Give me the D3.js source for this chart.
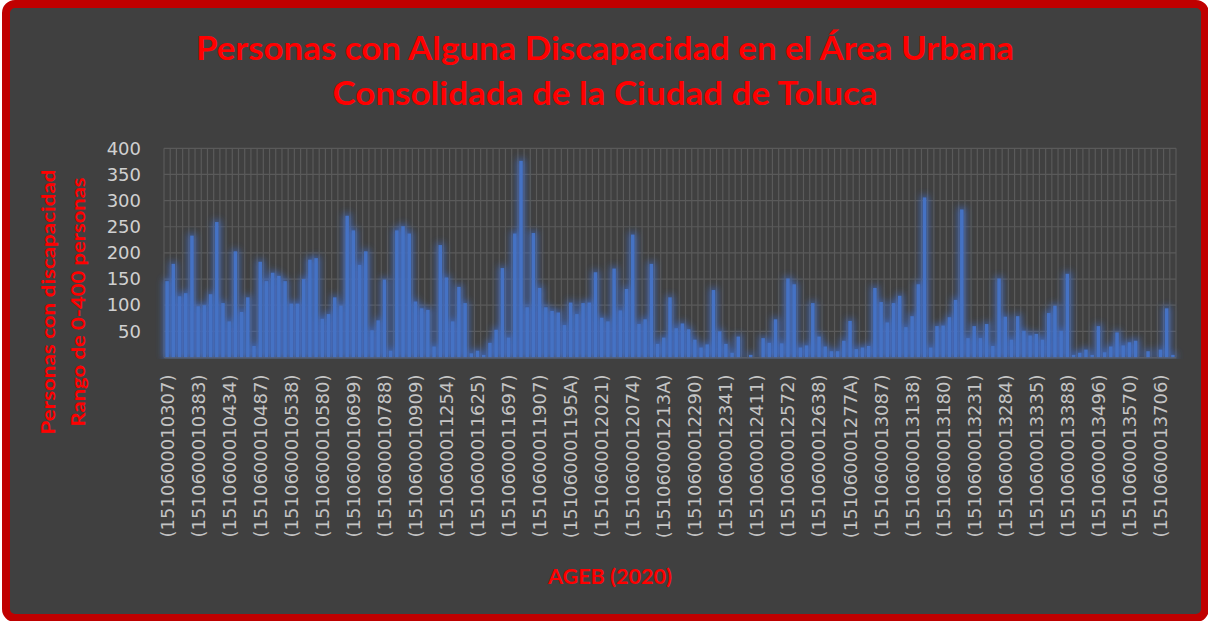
<!DOCTYPE html>
<html>
<head>
<meta charset="utf-8">
<script src="https://cdn.jsdelivr.net/npm/d3@7"></script>
<style>
  html, body { margin: 0; padding: 0; background: #ffffff; }
  svg { display: block; }
</style>
</head>
<body>
<svg id="chart" width="1208" height="621"></svg>
<script>
// Personas con alguna discapacidad por AGEB (2020), en orden de clave
const values = [
  146, 179, 117, 123, 233, 98, 100, 121, 259, 104,
  69, 203, 87, 115, 22, 183, 146, 162, 156, 146,
  103, 103, 150, 187, 190, 74, 83, 115, 99, 271,
  243, 177, 203, 52, 71, 149, 13, 243, 251, 237,
  107, 94, 91, 21, 215, 153, 69, 135, 104, 8,
  13, 5, 28, 53, 171, 38, 237, 376, 96, 238,
  133, 96, 89, 86, 62, 105, 83, 104, 105, 163,
  76, 69, 170, 90, 131, 235, 64, 73, 179, 26,
  38, 115, 56, 65, 54, 34, 19, 25, 129, 50,
  26, 9, 40, 0, 5, 0, 37, 28, 73, 27,
  151, 140, 19, 23, 104, 40, 21, 12, 12, 32,
  70, 16, 19, 22, 133, 106, 67, 104, 118, 58,
  79, 140, 306, 19, 60, 61, 77, 110, 283, 37,
  60, 37, 64, 22, 151, 78, 34, 79, 51, 42,
  45, 34, 85, 99, 51, 160, 5, 9, 15, 5,
  60, 10, 21, 48, 23, 29, 32, 0, 12, 0,
  15, 94, 5
];

// Claves AGEB rotuladas (una de cada cinco categorías)
const tickLabels = [
  "(1510600010307)", "(1510600010383)", "(1510600010434)", "(1510600010487)",
  "(1510600010538)", "(1510600010580)", "(1510600010699)", "(1510600010788)",
  "(1510600010909)", "(1510600011254)", "(1510600011625)", "(1510600011697)",
  "(1510600011907)", "(151060001195A)", "(1510600012021)", "(1510600012074)",
  "(151060001213A)", "(1510600012290)", "(1510600012341)", "(1510600012411)",
  "(1510600012572)", "(1510600012638)", "(151060001277A)", "(1510600013087)",
  "(1510600013138)", "(1510600013180)", "(1510600013231)", "(1510600013284)",
  "(1510600013335)", "(1510600013388)", "(1510600013496)", "(1510600013570)",
  "(1510600013706)"
];
const labelEvery = 5;

const yTicks = [50, 100, 150, 200, 250, 300, 350, 400];

const titleLines = [
  "Personas con Alguna Discapacidad en el Área Urbana",
  "Consolidada de la Ciudad de Toluca"
];
const yTitleLines = ["Personas con discapacidad", "Rango de 0-400 personas"];
const xTitle = "AGEB (2020)";

// ---------------------------------------------------------------
const svg = d3.select("#chart");
const plot = { left: 164, right: 1176, top: 148.3, bottom: 357.5 };
const gridColor = "#5a5a5a";
const barColor = "#4472c4";
const red = "#ff0000";
const boldFont = "Lato, 'Open Sans', sans-serif";

// Fit a text element to a given width while keeping its font size
function fitWidth(sel, target) {
  const len = sel.node().getComputedTextLength();
  if (Math.abs(len - target) / target > 0.02) {
    sel.attr("textLength", target).attr("lengthAdjust", "spacingAndGlyphs");
  }
}

// Glow around the bars
const defs = svg.append("defs");
const glow = defs.append("filter").attr("id", "glow")
  .attr("filterUnits", "userSpaceOnUse")
  .attr("x", 140).attr("y", 120).attr("width", 1060).attr("height", plot.bottom - 120 + 1);
glow.append("feMorphology").attr("in", "SourceAlpha").attr("operator", "dilate")
  .attr("radius", 2).attr("result", "thick");
glow.append("feGaussianBlur").attr("in", "thick").attr("stdDeviation", 3.5).attr("result", "blur");
glow.append("feFlood").attr("flood-color", "#3f6fd0").attr("flood-opacity", 0.75).attr("result", "col");
glow.append("feComposite").attr("in", "col").attr("in2", "blur").attr("operator", "in").attr("result", "halo");
const merge = glow.append("feMerge");
merge.append("feMergeNode").attr("in", "halo");
merge.append("feMergeNode").attr("in", "SourceGraphic");

// Chart frame
svg.append("rect")
  .attr("x", 6).attr("y", 4).attr("width", 1199).attr("height", 614)
  .attr("rx", 9).attr("ry", 9)
  .attr("fill", "#404040")
  .attr("stroke", "#c00000").attr("stroke-width", 8);

// Scales
const x = d3.scaleBand()
  .domain(d3.range(values.length))
  .range([plot.left, plot.right])
  .paddingInner(0.44)
  .paddingOuter(0.22);

const y = d3.scaleLinear().domain([0, 400]).range([plot.bottom, plot.top]);

// Gridlines
const grid = svg.append("g").attr("stroke", gridColor).attr("stroke-width", 1.2);
const gap = (x.step() - x.bandwidth()) / 2;
const edges = d3.range(values.length).map(i => x(i) - gap).concat([plot.right]);
grid.selectAll("line.v").data(edges).join("line")
  .attr("class", "v")
  .attr("x1", d => d).attr("x2", d => d)
  .attr("y1", y(400)).attr("y2", y(0));
grid.selectAll("line.h").data([0].concat(yTicks)).join("line")
  .attr("class", "h")
  .attr("x1", plot.left).attr("x2", plot.right)
  .attr("y1", d => y(d)).attr("y2", d => y(d));

// Bars
svg.append("g").attr("filter", "url(#glow)")
  .selectAll("rect").data(values).join("rect")
  .attr("x", (d, i) => x(i))
  .attr("width", x.bandwidth())
  .attr("y", d => y(d))
  .attr("height", d => y(0) - y(d))
  .attr("fill", barColor);

// Y axis
const yAxis = svg.append("g")
  .attr("transform", `translate(${plot.left},0)`)
  .call(d3.axisLeft(y).tickValues(yTicks).tickSize(0).tickPadding(23));
yAxis.select(".domain").remove();
yAxis.selectAll("text")
  .attr("fill", "#d0d0d0")
  .style("font-family", "'DejaVu Sans', sans-serif")
  .style("font-size", "18px");

// X axis
const xAxis = svg.append("g")
  .attr("transform", `translate(0,${plot.bottom})`)
  .call(d3.axisBottom(x)
    .tickValues(d3.range(0, values.length, labelEvery))
    .tickFormat(i => tickLabels[i / labelEvery])
    .tickSize(0));
xAxis.select(".domain").attr("stroke", gridColor).attr("stroke-width", 1.2);
xAxis.selectAll("text")
  .attr("fill", "#c4c4c4")
  .style("font-family", "'DejaVu Sans', sans-serif")
  .style("font-size", "18px")
  .attr("transform", "rotate(-90)")
  .attr("x", -17)
  .attr("y", 0)
  .attr("dy", "0.36em")
  .style("text-anchor", "end");

// Title
const titleY = [60, 105];
const titleW = [818, 545];
titleLines.forEach((t, i) => {
  const el = svg.append("text")
    .attr("x", 605).attr("y", titleY[i])
    .attr("text-anchor", "middle")
    .attr("fill", red)
    .style("font-family", boldFont)
    .style("font-weight", "bold")
    .style("font-size", "32px")
    .text(t);
  fitWidth(el, titleW[i]);
});

// Y axis title
const yTitleX = [55, 85];
const yTitleW = [265, 249];
yTitleLines.forEach((t, i) => {
  const el = svg.append("text")
    .attr("transform", `translate(${yTitleX[i]},302) rotate(-90)`)
    .attr("text-anchor", "middle")
    .attr("fill", red)
    .style("font-family", boldFont)
    .style("font-weight", "bold")
    .style("font-size", "19px")
    .text(t);
  fitWidth(el, yTitleW[i]);
});

// X axis title
const xt = svg.append("text")
  .attr("x", 610).attr("y", 584)
  .attr("text-anchor", "middle")
  .attr("fill", red)
  .style("font-family", boldFont)
  .style("font-weight", "bold")
  .style("font-size", "21px")
  .text(xTitle);
fitWidth(xt, 124);
</script>
</body>
</html>
